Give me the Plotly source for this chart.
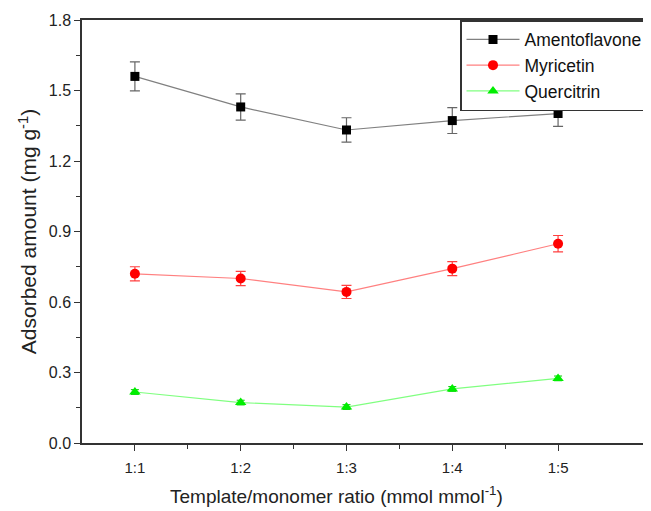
import plotly.graph_objects as go

categories = ["1:1", "1:2", "1:3", "1:4", "1:5"]
x_pos = [1, 2, 3, 4, 5]

amento = [1.56, 1.43, 1.332, 1.372, 1.402]
amento_err = [0.062, 0.056, 0.052, 0.055, 0.055]
myri = [0.72, 0.70, 0.643, 0.742, 0.848]
myri_err = [0.03, 0.03, 0.028, 0.03, 0.035]
quer = [0.217, 0.172, 0.153, 0.23, 0.275]
quer_err = [0.01, 0.01, 0.01, 0.01, 0.01]

x_title = "Template/monomer ratio (mmol mmol<sup>-1</sup>)"
y_title = "Adsorbed amount (mg g<sup>-1</sup>)"

fig = go.Figure()
fig.add_trace(go.Scatter(
    x=x_pos, y=amento, name="Amentoflavone", mode="lines+markers",
    line=dict(color="#808080", width=1.2),
    marker=dict(symbol="square", size=9, color="black"),
    error_y=dict(type="data", array=amento_err, color="#666666", thickness=1.2, width=5),
))
fig.add_trace(go.Scatter(
    x=x_pos, y=myri, name="Myricetin", mode="lines+markers",
    line=dict(color="#ff8080", width=1.2),
    marker=dict(symbol="circle", size=10, color="#ff0000"),
    error_y=dict(type="data", array=myri_err, color="#ff4040", thickness=1.2, width=5),
))
fig.add_trace(go.Scatter(
    x=x_pos, y=quer, name="Quercitrin", mode="lines+markers",
    line=dict(color="#80ff80", width=1.2),
    marker=dict(symbol="triangle-up", size=10, color="#00ee00"),
    error_y=dict(type="data", array=quer_err, color="#00cc00", thickness=1, width=4),
))

axis_common = dict(
    showline=True, linecolor="#333333", linewidth=1.5, mirror=True,
    ticks="outside", ticklen=6, tickwidth=1.2, tickcolor="#333333",
    showgrid=False, zeroline=False,
)

fig.update_layout(
    width=643, height=503,
    margin=dict(l=74, r=1, t=12, b=68),
    plot_bgcolor="white", paper_bgcolor="white",
    font=dict(family="Arial, Liberation Sans", color="#222222"),
    xaxis=dict(
        axis_common,
        range=[0.5, 5.85], tickmode="array", tickvals=x_pos, ticktext=categories,
        tickfont=dict(family="Arial, Liberation Sans", size=15, color="#222222"),
        ticklabelstandoff=4,
        minor=dict(tickvals=[1.5, 2.5, 3.5, 4.5], ticks="outside", ticklen=4, tickcolor="#333333"),
    ),
    yaxis=dict(
        axis_common,
        range=[0, 1.8], tickmode="linear", tick0=0, dtick=0.3, tickformat=".1f",
        tickfont=dict(family="Arial, Liberation Sans", size=16, color="#222222"),
        minor=dict(dtick=0.15, ticks="outside", ticklen=4, tickcolor="#333333"),
        title=dict(text=y_title, font=dict(size=21, color="#222222"), standoff=6),
    ),
    legend=dict(
        x=1, y=1, xanchor="right", yanchor="top",
        bordercolor="#333333", borderwidth=1.5, bgcolor="white",
        font=dict(size=17.5, color="#111111"), tracegroupgap=0, itemwidth=53,
    ),
    annotations=[dict(
        text=x_title, xref="paper", yref="paper", x=0.449, y=-0.123,
        xanchor="center", yanchor="middle", showarrow=False,
        font=dict(size=19, color="#222222"),
    )],
)

fig.write_html("out.html")
